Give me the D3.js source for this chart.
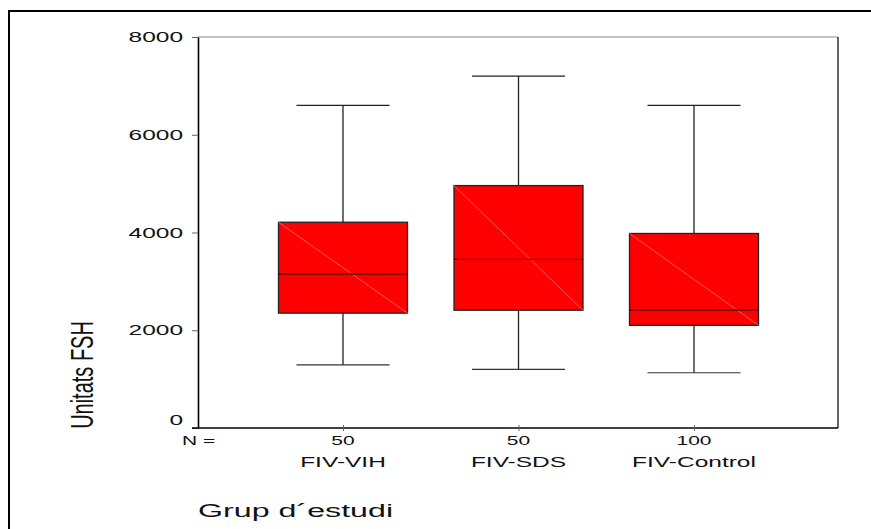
<!DOCTYPE html>
<html>
<head>
<meta charset="utf-8">
<script src="https://cdn.jsdelivr.net/npm/d3@7"></script>
<style>
  html, body { margin: 0; padding: 0; background: #fff; }
  svg { display: block; font-family: 'Liberation Sans', Arial, sans-serif; }
</style>
</head>
<body>
<div id="chart"></div>
<script>
// box plot values
const groups = ['FIV-VIH', 'FIV-SDS', 'FIV-Control']
const counts = [50, 50, 100]
const whiskerLow = [1290, 1200, 1130]
const q1 = [2350, 2410, 2100]
const median = [3150, 3450, 2410]
const q3 = [4210, 4960, 3980]
const whiskerHigh = [6600, 7200, 6600]
const yTicks = [0, 2000, 4000, 6000, 8000]

const W = 871
const H = 529
const plot = {left: 198, top: 37, right: 838, bottom: 428}
const sx = 1.75 // text in the picture is stretched sideways

const svg = d3.select('#chart').append('svg')
  .attr('width', W)
  .attr('height', H)

// outer frame (only top and left show)
svg.append('rect')
  .attr('x', 9).attr('y', 11)
  .attr('width', 870).attr('height', 540)
  .attr('fill', 'none')
  .attr('stroke', '#000')
  .attr('stroke-width', 2)

const y = d3.scaleLinear().domain([0, 8000]).range([plot.bottom, plot.top])
const x = d3.scalePoint().domain(groups).range([343, 694])

const boxHalf = 64.5
const capHalf = 46.5

// plot frame
svg.append('line')
  .attr('x1', plot.left).attr('x2', plot.right)
  .attr('y1', plot.top).attr('y2', plot.top)
  .attr('stroke', '#888').attr('stroke-width', 1.2)
svg.append('line')
  .attr('x1', plot.right).attr('x2', plot.right)
  .attr('y1', plot.top).attr('y2', plot.bottom)
  .attr('stroke', '#111').attr('stroke-width', 1.3)

// y axis
const yAxis = svg.append('g')
  .attr('transform', 'translate(' + plot.left + ',0)')
  .call(d3.axisLeft(y).tickValues(yTicks).tickSize(6).tickSizeOuter(0).tickFormat(''))
yAxis.select('.domain').attr('stroke', '#000').attr('stroke-width', 1.6)
yAxis.selectAll('.tick line').attr('stroke', '#666')

svg.selectAll('.ylab')
  .data(yTicks)
  .enter()
  .append('text')
  .attr('class', 'ylab')
  .attr('transform', function (d) { return 'translate(183,' + (y(d) + (d === 0 ? -3 : 5)) + ') scale(' + sx + ',1)' })
  .attr('text-anchor', 'end')
  .attr('font-size', '14px')
  .attr('fill', '#111')
  .text(function (d) { return d })

// x axis
const xAxis = svg.append('g')
  .attr('transform', 'translate(0,' + plot.bottom + ')')
  .call(d3.axisBottom(x).tickSize(3).tickSizeOuter(0).tickFormat(''))
xAxis.select('.domain').attr('d', 'M' + (plot.left - 6) + ',0H' + plot.right).attr('stroke', '#000').attr('stroke-width', 1.6)
xAxis.selectAll('.tick line').attr('stroke', '#666').attr('transform', 'translate(0,-3)').attr('y2', 6)

// N = row
svg.append('text')
  .attr('transform', 'translate(182,445) scale(' + sx + ',1)')
  .attr('font-size', '12px')
  .attr('fill', '#111')
  .text('N =')
svg.selectAll('.nlab')
  .data(groups)
  .enter()
  .append('text')
  .attr('class', 'nlab')
  .attr('transform', function (d) { return 'translate(' + x(d) + ',445) scale(' + sx + ',1)' })
  .attr('text-anchor', 'middle')
  .attr('font-size', '12px')
  .attr('fill', '#111')
  .text(function (d, i) { return counts[i] })

svg.selectAll('.glab')
  .data(groups)
  .enter()
  .append('text')
  .attr('class', 'glab')
  .attr('transform', function (d) { return 'translate(' + x(d) + ',467) scale(' + sx + ',1)' })
  .attr('text-anchor', 'middle')
  .attr('font-size', '14px')
  .attr('fill', '#111')
  .text(function (d) { return d })

// axis titles
svg.append('text')
  .attr('transform', 'translate(198,517) scale(' + sx + ',1)')
  .attr('font-size', '18.4px')
  .attr('fill', '#111')
  .text('Grup d\u00b4estudi')

svg.append('text')
  .attr('transform', 'translate(92.5,375) scale(1.6,1) rotate(-90)')
  .attr('text-anchor', 'middle')
  .attr('font-size', '20px')
  .attr('fill', '#111')
  .text('Unitats FSH')

// boxes
const box = svg.selectAll('.box')
  .data(groups)
  .enter()
  .append('g')
  .attr('class', 'box')

// whiskers
box.append('line')
  .attr('x1', function (d) { return x(d) }).attr('x2', function (d) { return x(d) })
  .attr('y1', function (d, i) { return y(whiskerHigh[i]) })
  .attr('y2', function (d, i) { return y(whiskerLow[i]) })
  .attr('stroke', '#222').attr('stroke-width', 1.3)
box.append('line')
  .attr('x1', function (d) { return x(d) - capHalf }).attr('x2', function (d) { return x(d) + capHalf })
  .attr('y1', function (d, i) { return y(whiskerHigh[i]) })
  .attr('y2', function (d, i) { return y(whiskerHigh[i]) })
  .attr('stroke', '#222').attr('stroke-width', 1.2)
box.append('line')
  .attr('x1', function (d) { return x(d) - capHalf }).attr('x2', function (d) { return x(d) + capHalf })
  .attr('y1', function (d, i) { return y(whiskerLow[i]) })
  .attr('y2', function (d, i) { return y(whiskerLow[i]) })
  .attr('stroke', '#333').attr('stroke-width', 1.2)

box.append('rect')
  .attr('x', function (d) { return x(d) - boxHalf })
  .attr('y', function (d, i) { return y(q3[i]) })
  .attr('width', boxHalf * 2)
  .attr('height', function (d, i) { return y(q1[i]) - y(q3[i]) })
  .attr('fill', '#ff0000')
  .attr('stroke', '#222')
  .attr('stroke-width', 1.3)

// thin diagonal across each box
box.append('line')
  .attr('x1', function (d) { return x(d) - boxHalf }).attr('x2', function (d) { return x(d) + boxHalf })
  .attr('y1', function (d, i) { return y(q3[i]) })
  .attr('y2', function (d, i) { return y(q1[i]) })
  .attr('stroke', '#ff7070').attr('stroke-width', 0.8)

box.append('line')
  .attr('x1', function (d) { return x(d) - boxHalf }).attr('x2', function (d) { return x(d) + boxHalf })
  .attr('y1', function (d, i) { return y(median[i]) })
  .attr('y2', function (d, i) { return y(median[i]) })
  .attr('stroke', '#5a0000').attr('stroke-width', 1.2)
</script>
</body>
</html>
